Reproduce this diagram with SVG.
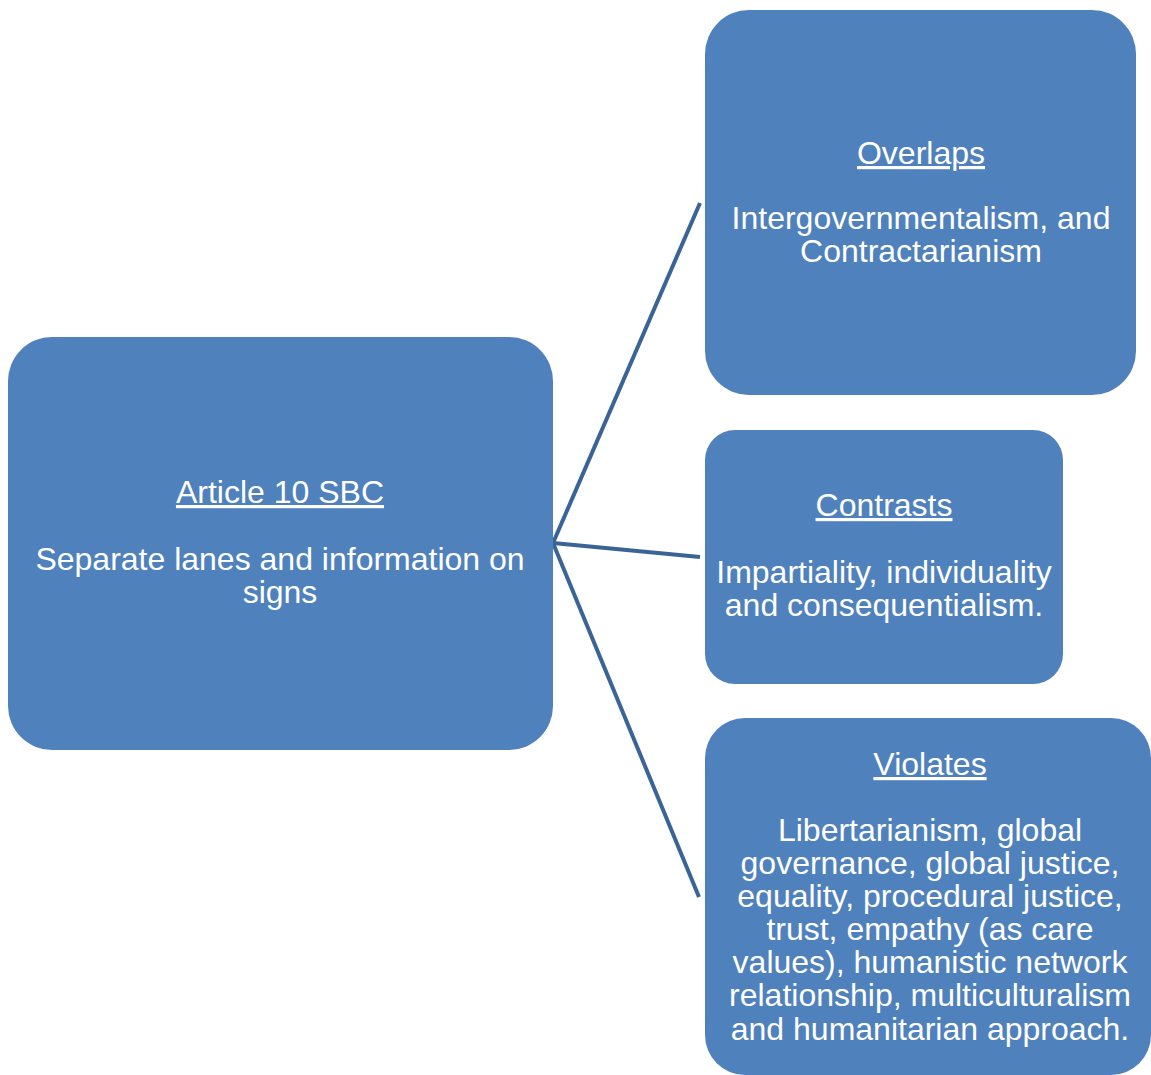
<svg xmlns="http://www.w3.org/2000/svg" width="1151" height="1075" viewBox="0 0 1151 1075">
  <style>
    .box { fill: #4f81bd; }
    .link { stroke: #3a6496; stroke-width: 4; fill: none; }
    text { font-family: "Liberation Sans", Arial, sans-serif; font-size: 32px; fill: #ffffff; text-anchor: middle; }
    .head { text-decoration: underline; }
  </style>
  <rect width="1151" height="1075" fill="#ffffff"/>
  <g id="connectors">
    <line class="link" x1="553" y1="543" x2="700" y2="203"/>
    <line class="link" x1="553" y1="543" x2="700" y2="557"/>
    <line class="link" x1="553" y1="543" x2="699" y2="897"/>
  </g>
  <g id="article10">
    <rect class="box" x="8" y="337" width="545" height="413" rx="44" ry="44"/>
    <text x="280" y="503" class="head">Article 10 SBC</text>
    <text x="280" y="570">Separate lanes and information on</text>
    <text x="280" y="603">signs</text>
  </g>
  <g id="overlaps">
    <rect class="box" x="705" y="10" width="431" height="385" rx="44" ry="44"/>
    <text x="921" y="164" class="head">Overlaps</text>
    <text x="921" y="229">Intergovernmentalism, and</text>
    <text x="921" y="262">Contractarianism</text>
  </g>
  <g id="contrasts">
    <rect class="box" x="705" y="430" width="358" height="254" rx="30" ry="30"/>
    <text x="884" y="516" class="head">Contrasts</text>
    <text x="884" y="583">Impartiality, individuality</text>
    <text x="884" y="616">and consequentialism.</text>
  </g>
  <g id="violates">
    <rect class="box" x="705" y="718" width="446" height="357" rx="40" ry="40"/>
    <text x="930" y="775" class="head">Violates</text>
    <text x="930" y="841">Libertarianism, global</text>
    <text x="930" y="874">governance, global justice,</text>
    <text x="930" y="907">equality, procedural justice,</text>
    <text x="930" y="940">trust, empathy (as care</text>
    <text x="930" y="973">values), humanistic network</text>
    <text x="930" y="1006">relationship, multiculturalism</text>
    <text x="930" y="1040">and humanitarian approach.</text>
  </g>
</svg>
